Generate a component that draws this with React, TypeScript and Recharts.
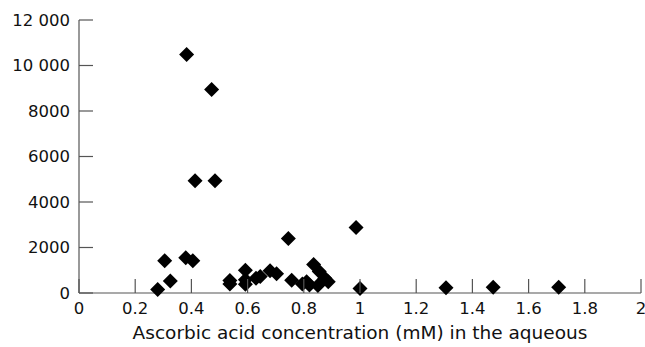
import React from 'react';
import { ScatterChart, Scatter, XAxis, YAxis } from 'recharts';

const xValues = [0.28, 0.305, 0.325, 0.38, 0.405, 0.383, 0.472, 0.413, 0.484, 0.537, 0.537, 0.592, 0.592, 0.592, 0.63, 0.645, 0.68, 0.703, 0.745, 0.757, 0.795, 0.81, 0.82, 0.835, 0.85, 0.855, 0.875, 0.887, 0.986, 1.0, 1.306, 1.474, 1.707];
const yValues = [150, 1420, 530, 1550, 1420, 10480, 8950, 4930, 4930, 550, 400, 1000, 580, 380, 650, 720, 980, 850, 2400, 560, 400, 500, 350, 1250, 330, 950, 650, 500, 2880, 200, 230, 250, 250];
const xTicks = [0, 0.2, 0.4, 0.6, 0.8, 1, 1.2, 1.4, 1.6, 1.8, 2];
const yTicks = [0, 2000, 4000, 6000, 8000, 10000, 12000];
const xLabel = 'Ascorbic acid concentration (mM) in the aqueous';

const data = xValues.map((x, i) => ({ x, y: yValues[i] }));

const FONT = '"DejaVu Sans", sans-serif';

const Diamond = (props: any) => {
  const { cx, cy } = props;
  const r = 7.5;
  return <polygon points={`${cx},${cy - r} ${cx + r},${cy} ${cx},${cy + r} ${cx - r},${cy}`} fill="#000" />;
};

const fmtY = (v: number) => (v >= 10000 ? `${Math.floor(v / 1000)} ${String(v % 1000).padStart(3, '0')}` : String(v));

const YTick = (props: any) => {
  const { x, y, payload } = props;
  return (
    <g>
      <line x1={x} y1={y} x2={x + 14} y2={y} stroke="#555" strokeWidth={1.2} />
      <text x={x - 9} y={y} dy="0.35em" textAnchor="end" fontFamily={FONT} fontSize={16.5} fill="#111">
        {fmtY(payload.value)}
      </text>
    </g>
  );
};

const XTick = (props: any) => {
  const { x, y, payload } = props;
  return (
    <g>
      <line x1={x} y1={y} x2={x} y2={y - 14} stroke="#555" strokeWidth={1.2} />
      <text x={x} y={y + 15} dy="0.35em" textAnchor="middle" fontFamily={FONT} fontSize={16.5} fill="#111">
        {String(payload.value)}
      </text>
    </g>
  );
};

export default function App() {
  return (
    <div style={{ position: 'absolute', left: 0, top: 0, background: '#fff' }}>
      <ScatterChart width={645} height={347} margin={{ top: 20, right: 4, bottom: 0, left: 0 }}>
        <XAxis
          type="number"
          dataKey="x"
          domain={[0, 2]}
          ticks={xTicks}
          interval={0}
          height={54}
          tickSize={0}
          tickMargin={0}
          tick={XTick}
          stroke="#555"
          strokeWidth={1.2}
          label={{ value: xLabel, position: 'insideBottom', offset: 8, fontFamily: FONT, fontSize: 18.5, fill: '#111' }}
        />
        <YAxis
          type="number"
          dataKey="y"
          domain={[0, 12000]}
          ticks={yTicks}
          interval={0}
          width={79}
          tickSize={0}
          tickMargin={0}
          tick={YTick}
          stroke="#555"
          strokeWidth={1.2}
        />
        <Scatter data={data} shape={Diamond} isAnimationActive={false} />
      </ScatterChart>
    </div>
  );
}
